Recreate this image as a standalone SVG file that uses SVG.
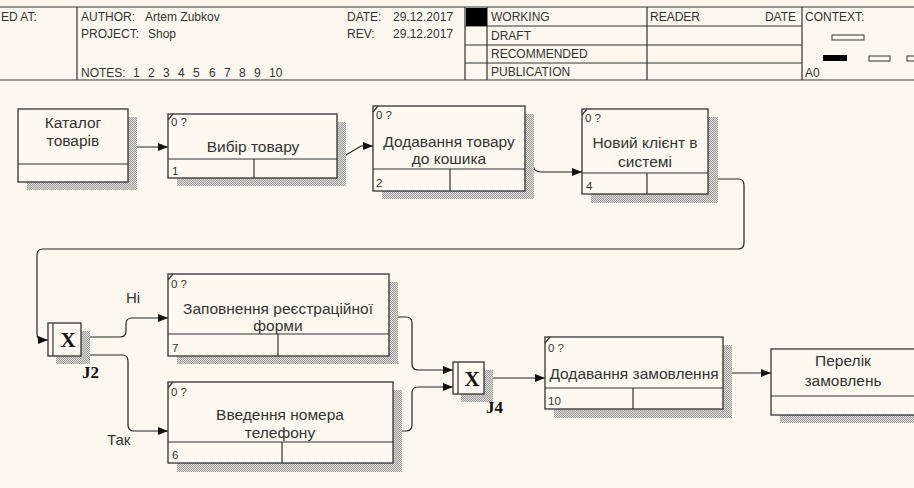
<svg xmlns="http://www.w3.org/2000/svg" width="914" height="488" viewBox="0 0 914 488">
<defs>
<pattern id="hatch" width="2" height="2" patternUnits="userSpaceOnUse">
<rect width="2" height="2" fill="#e2e0da"/>
<rect width="1" height="1" fill="#9a9a9a"/>
<rect x="1" y="1" width="1" height="1" fill="#9a9a9a"/>
</pattern>
<marker id="arr" viewBox="0 0 10 8" refX="10" refY="4" markerWidth="10" markerHeight="8" markerUnits="userSpaceOnUse" orient="auto">
<path d="M0,0 L10,4 L0,8 Z" fill="#111"/>
</marker>
</defs>
<style>
.hd{font-family:"Liberation Sans",Arial,sans-serif;font-size:12px;fill:#333}
.ln{stroke:#333;stroke-width:1.2;fill:none}
.box{fill:#fdf9f0;stroke:#333;stroke-width:1.3}
.sh{fill:url(#hatch)}
.t{font-family:"Liberation Sans",Arial,sans-serif;font-size:15.5px;fill:#333;text-anchor:middle}
.s{font-family:"Liberation Sans",Arial,sans-serif;font-size:11.5px;fill:#333}
.c{stroke:#222;stroke-width:1.2;fill:none;marker-end:url(#arr)}
.jx{font-family:"Liberation Serif","Times New Roman",serif;font-weight:bold;font-size:21px;fill:#111;text-anchor:middle}
.jl{font-family:"Liberation Serif","Times New Roman",serif;font-weight:bold;font-size:17px;fill:#111}
.lb{font-family:"Liberation Sans",Arial,sans-serif;font-size:15px;fill:#333}
</style>
<rect width="914" height="488" fill="#fcf8ef"/>

<g id="header">
<line class="ln" x1="0" y1="7" x2="914" y2="7"/>
<line class="ln" x1="0" y1="80" x2="914" y2="80"/>
<line class="ln" x1="77" y1="7" x2="77" y2="80"/>
<line class="ln" x1="465" y1="7" x2="465" y2="80"/>
<line class="ln" x1="487" y1="7" x2="487" y2="80"/>
<line class="ln" x1="647" y1="7" x2="647" y2="80"/>
<line class="ln" x1="802" y1="7" x2="802" y2="80"/>
<line class="ln" x1="465" y1="26" x2="802" y2="26"/>
<line class="ln" x1="465" y1="45" x2="802" y2="45"/>
<line class="ln" x1="465" y1="63" x2="802" y2="63"/>
<rect x="466" y="8" width="21" height="18" fill="#000"/>
<text class="hd" x="1" y="21">ED AT:</text>
<text class="hd" x="81" y="21">AUTHOR:</text>
<text class="hd" x="145" y="21">Artem Zubkov</text>
<text class="hd" x="81" y="38">PROJECT:</text>
<text class="hd" x="148" y="38">Shop</text>
<text class="hd" x="81" y="77">NOTES:</text>
<text class="hd" x="133" y="77">1</text>
<text class="hd" x="148" y="77">2</text>
<text class="hd" x="163" y="77">3</text>
<text class="hd" x="178" y="77">4</text>
<text class="hd" x="193" y="77">5</text>
<text class="hd" x="209" y="77">6</text>
<text class="hd" x="224" y="77">7</text>
<text class="hd" x="239" y="77">8</text>
<text class="hd" x="254" y="77">9</text>
<text class="hd" x="269" y="77">10</text>
<text class="hd" x="347" y="21">DATE:</text>
<text class="hd" x="393" y="21">29.12.2017</text>
<text class="hd" x="347" y="38">REV:</text>
<text class="hd" x="393" y="38">29.12.2017</text>
<text class="hd" x="491" y="21">WORKING</text>
<text class="hd" x="491" y="40">DRAFT</text>
<text class="hd" x="491" y="58">RECOMMENDED</text>
<text class="hd" x="491" y="76">PUBLICATION</text>
<text class="hd" x="650" y="21">READER</text>
<text class="hd" x="796" y="21" text-anchor="end">DATE</text>
<text class="hd" x="805" y="21">CONTEXT:</text>
<text class="hd" x="805" y="77">A0</text>
<rect x="832" y="35" width="32" height="5" fill="none" stroke="#333" stroke-width="1"/>
<rect x="823" y="55" width="24" height="6" fill="#000"/>
<rect x="869" y="56" width="21" height="5" fill="none" stroke="#333" stroke-width="1"/>
<rect x="907" y="56" width="10" height="5" fill="none" stroke="#333" stroke-width="1"/>
</g>

<g id="connectors">
<path class="c" d="M128,147 H168"/>
<path class="c" d="M337,155 H346 L361,146 H373"/>
<path class="c" d="M525,155 C532,155 533,159 533,164 Q533,172 541,172 H582"/>
<path class="c" d="M708,179 H738 Q744,179 744,185 V243 Q744,249 738,249 H43 Q37,249 37,255 V334 Q37,340 43,340 H48"/>
<path class="c" d="M81,337 H120 Q126,337 126,331 V324 Q126,318 132,318 H168"/>
<path class="c" d="M81,355 H122 Q128,355 128,361 V425 Q128,431 134,431 H168"/>
<path class="c" d="M389,317 H406 Q412,317 412,323 V364 Q412,370 418,370 H453"/>
<path class="c" d="M393,431 H406 Q412,431 412,425 V393 Q412,387 418,387 H453"/>
<path class="c" d="M484,378 H545"/>
<path class="c" d="M723,373 H771"/>
<text class="lb" x="126" y="303">Ні</text>
<text class="lb" x="107" y="445">Так</text>
</g>

<g id="n_katalog">
<rect class="sh" x="27" y="117" width="110" height="73"/>
<rect class="box" x="18" y="109" width="110" height="73"/>
<line class="ln" x1="18" y1="164" x2="128" y2="164"/>
<text class="t" x="73" y="128">Каталог</text>
<text class="t" x="73" y="146">товарів</text>
</g>

<g id="n1">
<rect class="sh" x="177" y="122" width="169" height="64"/>
<rect class="box" x="168" y="114" width="169" height="64"/>
<line class="ln" x1="168" y1="159" x2="337" y2="159"/>
<line class="ln" x1="254" y1="159" x2="254" y2="178"/>
<line class="ln" x1="168" y1="120" x2="173" y2="114"/>
<text class="s" x="171" y="126">0 ?</text>
<text class="t" x="253" y="152">Вибір товару</text>
<text class="s" x="172" y="175">1</text>
</g>

<g id="n2">
<rect class="sh" x="382" y="114" width="152" height="85"/>
<rect class="box" x="373" y="106" width="152" height="85"/>
<line class="ln" x1="373" y1="169" x2="525" y2="169"/>
<line class="ln" x1="450" y1="169" x2="450" y2="191"/>
<line class="ln" x1="373" y1="112" x2="378" y2="106"/>
<text class="s" x="376" y="119">0 ?</text>
<text class="t" x="449" y="147">Додавання товару</text>
<text class="t" x="449" y="164">до кошика</text>
<text class="s" x="376" y="187">2</text>
</g>

<g id="n4">
<rect class="sh" x="591" y="117" width="127" height="86"/>
<rect class="box" x="582" y="109" width="126" height="85"/>
<line class="ln" x1="582" y1="173" x2="708" y2="173"/>
<line class="ln" x1="647" y1="173" x2="647" y2="194"/>
<line class="ln" x1="582" y1="115" x2="587" y2="109"/>
<text class="s" x="585" y="122">0 ?</text>
<text class="t" x="645" y="148">Новий клієнт в</text>
<text class="t" x="645" y="167">системі</text>
<text class="s" x="586" y="190">4</text>
</g>

<g id="J2">
<rect class="sh" x="56" y="331" width="34" height="33"/>
<rect class="box" x="48" y="323" width="33" height="33"/>
<line class="ln" x1="53" y1="323" x2="53" y2="356"/>
<text class="jx" x="68" y="347">X</text>
<text class="jl" x="82" y="378">J2</text>
</g>

<g id="n7">
<rect class="sh" x="177" y="282" width="221" height="82"/>
<rect class="box" x="168" y="274" width="221" height="82"/>
<line class="ln" x1="168" y1="334" x2="389" y2="334"/>
<line class="ln" x1="278" y1="334" x2="278" y2="356"/>
<line class="ln" x1="168" y1="280" x2="173" y2="274"/>
<text class="s" x="171" y="288">0 ?</text>
<text class="t" x="278" y="314">Заповнення реєстраційної</text>
<text class="t" x="278" y="331">форми</text>
<text class="s" x="172" y="352">7</text>
</g>

<g id="n6">
<rect class="sh" x="177" y="390" width="225" height="82"/>
<rect class="box" x="168" y="382" width="225" height="81"/>
<line class="ln" x1="168" y1="442" x2="393" y2="442"/>
<line class="ln" x1="282" y1="442" x2="282" y2="463"/>
<line class="ln" x1="168" y1="388" x2="173" y2="382"/>
<text class="s" x="171" y="396">0 ?</text>
<text class="t" x="280" y="420">Введення номера</text>
<text class="t" x="280" y="438">телефону</text>
<text class="s" x="172" y="459">6</text>
</g>

<g id="J4">
<rect class="sh" x="461" y="370" width="32" height="32"/>
<rect class="box" x="453" y="362" width="31" height="32"/>
<line class="ln" x1="458" y1="362" x2="458" y2="394"/>
<text class="jx" x="472" y="386">X</text>
<text class="jl" x="486" y="413">J4</text>
</g>

<g id="n10">
<rect class="sh" x="554" y="345" width="178" height="73"/>
<rect class="box" x="545" y="337" width="178" height="72"/>
<line class="ln" x1="545" y1="388" x2="723" y2="388"/>
<line class="ln" x1="633" y1="388" x2="633" y2="409"/>
<line class="ln" x1="545" y1="343" x2="550" y2="337"/>
<text class="s" x="548" y="352">0 ?</text>
<text class="t" x="634" y="379">Додавання замовлення</text>
<text class="s" x="548" y="405">10</text>
</g>

<g id="n_perelik">
<rect class="sh" x="780" y="357" width="150" height="66"/>
<rect class="box" x="771" y="349" width="150" height="66"/>
<line class="ln" x1="771" y1="396" x2="914" y2="396"/>
<text class="t" x="843" y="366">Перелік</text>
<text class="t" x="843" y="386">замовлень</text>
</g>
</svg>
